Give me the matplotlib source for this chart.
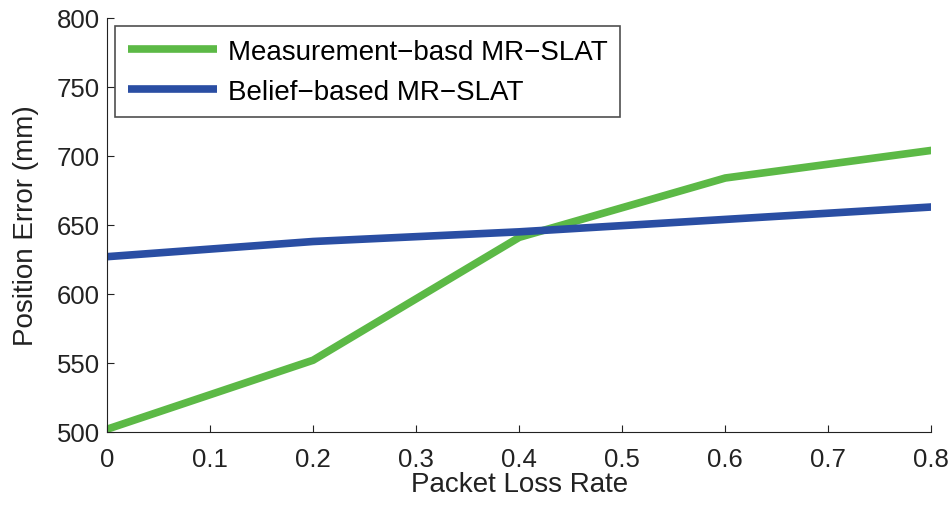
import matplotlib
matplotlib.use("Agg")
import matplotlib.pyplot as plt

# data
loss_rate = [0, 0.2, 0.4, 0.6, 0.8]
measurement_err = [502, 552, 641, 684, 704]
belief_err = [627, 638, 645, 654, 663]

x_ticks = [0, 0.1, 0.2, 0.3, 0.4, 0.5, 0.6, 0.7, 0.8]
y_ticks = [500, 550, 600, 650, 700, 750, 800]

plt.rcParams['font.family'] = ['Liberation Sans', 'DejaVu Sans']

fig = plt.figure(figsize=(9.52, 5.1), dpi=100)
ax = fig.add_axes([0.1124, 0.151, 0.866, 0.812])

ax.plot(loss_rate, measurement_err, color='#5cb946', linewidth=5.5,
        label='Measurement\u2212basd MR\u2212SLAT', solid_capstyle='butt')
ax.plot(loss_rate, belief_err, color='#2a4ea3', linewidth=5.5,
        label='Belief\u2212based MR\u2212SLAT', solid_capstyle='butt')

ax.set_xlim(0, 0.8)
ax.set_ylim(500, 800)
ax.set_xticks(x_ticks)
ax.set_xticklabels(['0', '0.1', '0.2', '0.3', '0.4', '0.5', '0.6', '0.7', '0.8'])
ax.set_yticks(y_ticks)

ax.spines['top'].set_visible(False)
ax.spines['right'].set_visible(False)
for s in ax.spines.values():
    s.set_color('#222222')
ax.tick_params(direction='in', length=5, labelsize=18.5, colors='#222222')
ax.tick_params(axis='x', pad=11)
ax.tick_params(axis='y', pad=5)

ax.set_xlabel('Packet Loss Rate', fontsize=20, color='#222222', labelpad=0)
ax.set_ylabel('Position Error (mm)', fontsize=20, color='#222222', labelpad=13)

leg = ax.legend(loc='upper left', fontsize=20, frameon=True, fancybox=False,
                edgecolor='#222222', handlelength=3.2, handletextpad=0.4,
                borderaxespad=0.3, labelspacing=0.5, borderpad=0.45)
leg.get_frame().set_linewidth(1.2)

fig.savefig('out.png', dpi=100)
